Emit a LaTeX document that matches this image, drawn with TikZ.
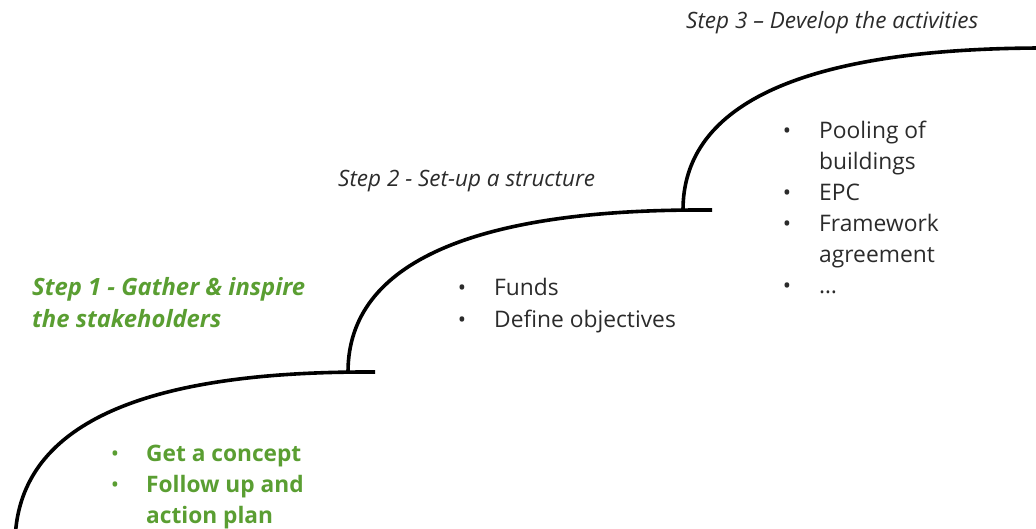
\documentclass[tikz,border=0pt]{standalone}
\usepackage{fontspec}
\setmainfont{Open Sans}
\definecolor{stepgreen}{HTML}{5A9E32}
\definecolor{txtgray}{HTML}{2B2B2B}
\tikzset{
  stair/.style={line width=3.6pt, black},
  txt/.style={anchor=base west, inner sep=0pt, font=\fontsize{22.8}{31}\selectfont, text=txtgray},
  titletxt/.style={txt, font=\fontsize{22.5}{31}\selectfont\itshape, text=txtgray},
  greentitle/.style={txt, font=\fontsize{23.8}{31}\selectfont\bfseries\itshape, text=stepgreen},
  greentxt/.style={txt, font=\fontsize{22.7}{31}\selectfont\bfseries, text=stepgreen},
  dot/.style={anchor=base, inner sep=0pt, font=\fontsize{22}{31}\selectfont, text=txtgray},
  greendot/.style={dot, text=stepgreen},
}
\begin{document}
\begin{tikzpicture}[x=1pt,y=-1pt]
\useasboundingbox (0,0) rectangle (1036,529);
\clip (0,0) rectangle (1036,529);
% stairs
\draw[stair] (15,545) .. controls (15,422) and (147,372) .. (367,372) -- (375,372);
\draw[stair] (348,372) .. controls (348,260) and (480,210) .. (700,210) -- (712,210);
\draw[stair] (683,210) .. controls (683,110) and (790,48) .. (1045,48);
% titles
\node[titletxt] (t3) at (686,29) {Step 3 – Develop the activities};
\node[titletxt] (t2) at (338,187) {Step 2 - Set-up a structure};
\node[greentitle] (t1a) at (32,296) {Step 1 - Gather \& inspire};
\node[greentitle] (t1b) at (32,327) {the stakeholders};
% step 1 bullets
\node[greendot] (d11) at (115,461) {\textbullet};
\node[greentxt] (b11) at (146,461) {Get a concept};
\node[greendot] (d12) at (115,492) {\textbullet};
\node[greentxt] (b12) at (146,492) {Follow up and};
\node[greentxt] (b13) at (146,523) {action plan};
% step 2 bullets
\node[dot] (d21) at (462,296) {\textbullet};
\node[txt] (b21) at (494,296) {Funds};
\node[dot] (d22) at (462,327) {\textbullet};
\node[txt] (b22) at (494,327) {Define objectives};
% step 3 bullets
\node[dot] (d31) at (787,139) {\textbullet};
\node[txt] (b31) at (819,139) {Pooling of};
\node[txt] (b32) at (819,170) {buildings};
\node[dot] (d33) at (787,201) {\textbullet};
\node[txt] (b33) at (819,201) {EPC};
\node[dot] (d34) at (787,232) {\textbullet};
\node[txt] (b34) at (819,232) {Framework};
\node[txt] (b35) at (819,263) {agreement};
\node[dot] (d36) at (787,294) {\textbullet};
\node[txt] (b36) at (819,294) {…};
\end{tikzpicture}
\end{document}
